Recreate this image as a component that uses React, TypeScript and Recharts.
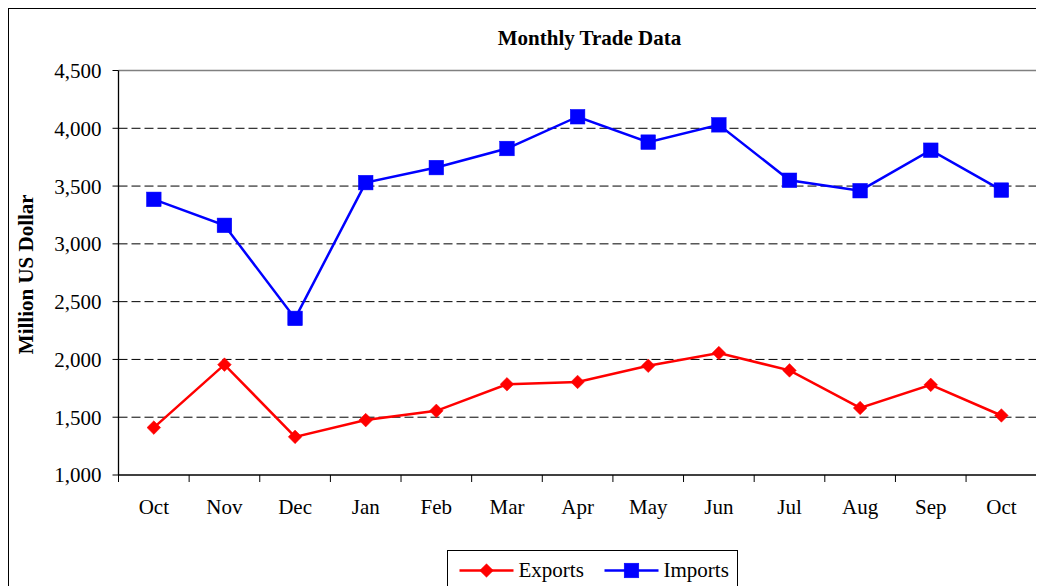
import React from 'react';
import { LineChart, Line, XAxis, YAxis, CartesianGrid } from 'recharts';

const months = ['Oct', 'Nov', 'Dec', 'Jan', 'Feb', 'Mar', 'Apr', 'May', 'Jun', 'Jul', 'Aug', 'Sep', 'Oct'];
const exportsVals = [1410, 1955, 1330, 1475, 1555, 1785, 1805, 1945, 2055, 1905, 1580, 1780, 1515];
const importsVals = [3385, 3160, 2355, 3530, 3660, 3825, 4100, 3880, 4030, 3550, 3460, 3810, 3465];
const yTicks = [1000, 1500, 2000, 2500, 3000, 3500, 4000, 4500];
const gridValues = [1500, 2000, 2500, 3000, 3500, 4000];
const seriesList = [
  { key: 'exports', name: 'Exports', color: '#FF0000', marker: 'diamond' },
  { key: 'imports', name: 'Imports', color: '#0000FF', marker: 'square' },
];
const titleText = 'Monthly Trade Data';
const yLabelText = 'Million US Dollar';

const data = months.map((m, i) => ({ month: m, exports: exportsVals[i], imports: importsVals[i] }));

const FONT = "'Liberation Serif', 'Times New Roman', serif";
const W = 1036;
const H = 578;
const M = { top: 62.5, right: 7.3, bottom: 0, left: 0 };
const Y_W = 110.5;
const X_H = 111;
const PLOT_W = W - M.left - M.right - Y_W;
const PLOT_H = H - M.top - M.bottom - X_H;
const HALF = PLOT_W / months.length / 2;

const Marker = ({ cx, cy, color, kind }: any) => {
  if (cx == null || cy == null) return null;
  if (kind === 'square') {
    const s = 7.3;
    return <rect x={cx - s} y={cy - s} width={s * 2} height={s * 2} fill={color} stroke={color} strokeWidth={0.5} />;
  }
  const d = 6.8;
  return (
    <polygon
      points={`${cx},${cy - d} ${cx + d},${cy} ${cx},${cy + d} ${cx - d},${cy}`}
      fill={color}
      stroke={color}
      strokeWidth={0.5}
    />
  );
};

const XTick = (props: any) => {
  const { x, y, payload, index } = props;
  return (
    <g>
      <line x1={x - HALF} x2={x - HALF} y1={y} y2={y + 7} stroke="#000" />
      {index === months.length - 1 && <line x1={x + HALF} x2={x + HALF} y1={y} y2={y + 7} stroke="#000" />}
      <text x={x} y={y + 38.5} textAnchor="middle" fill="#000" fontSize={21} fontFamily={FONT}>
        {payload.value}
      </text>
    </g>
  );
};

const YLabel = (props: any) => {
  const vb = props.viewBox || { x: 0, y: M.top, height: PLOT_H };
  const x = vb.x + 25;
  const y = vb.y + vb.height / 2 + 1.5;
  return (
    <text
      x={x}
      y={y}
      transform={`rotate(-90, ${x}, ${y})`}
      textAnchor="middle"
      fontWeight="bold"
      fontSize={21}
      fontFamily={FONT}
      fill="#000"
    >
      {yLabelText}
    </text>
  );
};

const legendItemX = [12, 157];

export default function App() {
  return (
    <div style={{ position: 'relative', width: W, height: H, fontFamily: FONT }}>
      <style>{'html, body { overflow: hidden; }'}</style>
      <div style={{ position: 'absolute', left: 0, top: 0 }}>
        <LineChart width={W} height={H} data={data} margin={M}>
          <CartesianGrid
            horizontal
            vertical={false}
            horizontalValues={gridValues}
            stroke="#000"
            strokeDasharray="9 4"
          />
          <CartesianGrid
            horizontal
            vertical
            horizontalCoordinatesGenerator={({ offset }: any) => [offset.top]}
            verticalCoordinatesGenerator={({ offset }: any) => [offset.left + offset.width]}
            stroke="#808080"
            strokeWidth={1.3}
          />
          <XAxis
            dataKey="month"
            interval={0}
            height={X_H}
            padding={{ left: HALF, right: HALF }}
            tickLine={false}
            tickSize={0}
            tickMargin={0}
            axisLine={{ stroke: '#000', strokeWidth: 1.3 }}
            tick={<XTick />}
          />
          <YAxis
            domain={[1000, 4500]}
            ticks={yTicks}
            interval={0}
            width={Y_W}
            tickSize={6}
            tickMargin={11}
            tickFormatter={(v: number) => v.toLocaleString('en-US')}
            tick={{ fill: '#000', fontSize: 21, fontFamily: FONT }}
            tickLine={{ stroke: '#000' }}
            axisLine={{ stroke: '#000', strokeWidth: 1.3 }}
            label={<YLabel />}
          />
          {seriesList.map((s) => (
            <Line
              key={s.key}
              type="linear"
              dataKey={s.key}
              name={s.name}
              stroke={s.color}
              strokeWidth={2.5}
              isAnimationActive={false}
              activeDot={false}
              dot={(p: any) => <Marker key={`${s.key}-${p.index}`} cx={p.cx} cy={p.cy} color={s.color} kind={s.marker} />}
            />
          ))}
        </LineChart>
      </div>
      <svg
        width={W}
        height={H}
        style={{ position: 'absolute', left: 0, top: 0, pointerEvents: 'none' }}
      >
        <line x1={0} x2={W} y1={0.5} y2={0.5} stroke="#000" strokeWidth={1} />
        <line x1={0.5} x2={0.5} y1={0} y2={H} stroke="#000" strokeWidth={1} />
        <text x={581.5} y={37} textAnchor="middle" fontWeight="bold" fontSize={21} fontFamily={FONT} fill="#000">
          {titleText}
        </text>
        <rect x={439.5} y={542.5} width={290} height={60} fill="#fff" stroke="#000" strokeWidth={1} />
        {seriesList.map((s, i) => {
          const x0 = 439.5 + legendItemX[i];
          const cy = 562.5;
          return (
            <g key={s.key}>
              <line x1={x0} x2={x0 + 54} y1={cy} y2={cy} stroke={s.color} strokeWidth={2.5} />
              <Marker cx={x0 + 27} cy={cy} color={s.color} kind={s.marker} />
              <text x={x0 + 59} y={569.3} fontSize={21} fontFamily={FONT} fill="#000">
                {s.name}
              </text>
            </g>
          );
        })}
      </svg>
    </div>
  );
}
